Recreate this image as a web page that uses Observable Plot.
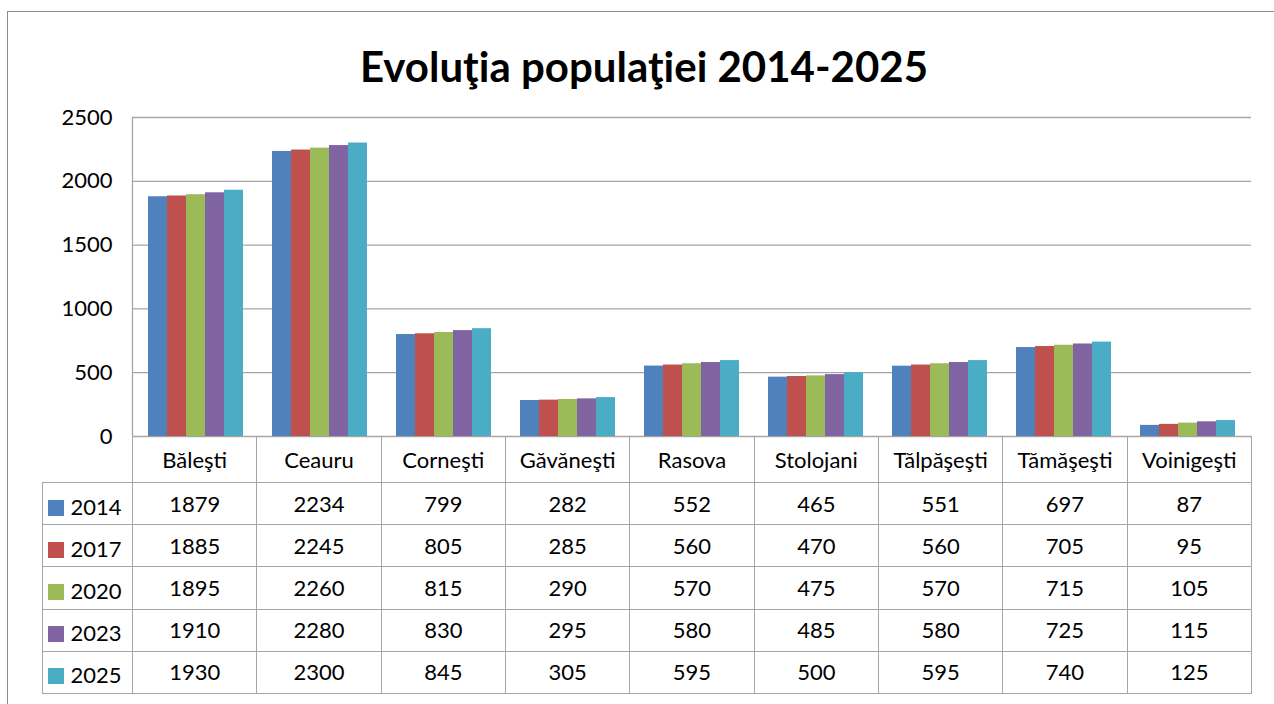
<!DOCTYPE html>
<html>
<head>
<meta charset="utf-8">
<script src="https://cdn.jsdelivr.net/npm/d3@7"></script>
<script src="https://cdn.jsdelivr.net/npm/@observablehq/plot@0.6"></script>
<style>
  html, body { margin: 0; padding: 0; background: #fff; }
  #wrap { position: relative; width: 1274px; height: 704px; overflow: hidden; font-family: Lato, "Open Sans", sans-serif; }
  #frame { position: absolute; left: 7px; top: 11px; width: 1300px; height: 740px; border: 1.5px solid #8c8c8c; box-sizing: border-box; }
  #title { position: absolute; left: 0; width: 1288px; top: 38px; text-align: center; font-weight: 700; font-size: 42px; color: #000; line-height: 56px; }
  .layer { position: absolute; left: 0; top: 0; }
  #tbl { position: absolute; left: 41.5px; top: 436px; border-collapse: collapse; table-layout: fixed; font-size: 22px; color: #000; }
  #tbl td { border: 1px solid #a6a6a6; text-align: center; padding: 0; white-space: nowrap; line-height: 20px; vertical-align: middle; }
  #tbl tr.head td { height: 45px; }
  #tbl tr.row td { height: 41.2px; }
  #tbl td.blank { border: none; }
  #tbl tr.row td.leg { text-align: left; padding-left: 5px; padding-top: 6px; height: 35.2px; }
  .sw { display: inline-block; width: 16px; height: 16px; margin-right: 7px; vertical-align: -1px; }
</style>
</head>
<body>
<div id="wrap">
  <div id="frame"></div>
  <div id="title">Evoluţia populaţiei 2014-2025</div>
  <div id="grid" class="layer"></div>
  <div id="bars" class="layer"></div>
  <table id="tbl"></table>
</div>
<script>
const categories = ["Băleşti", "Ceauru", "Corneşti", "Găvăneşti", "Rasova", "Stolojani", "Tălpăşeşti", "Tămăşeşti", "Voinigeşti"];
const years = [2014, 2017, 2020, 2023, 2025];
const v2014 = [1879, 2234, 799, 282, 552, 465, 551, 697, 87];
const v2017 = [1885, 2245, 805, 285, 560, 470, 560, 705, 95];
const v2020 = [1895, 2260, 815, 290, 570, 475, 570, 715, 105];
const v2023 = [1910, 2280, 830, 295, 580, 485, 580, 725, 115];
const v2025 = [1930, 2300, 845, 305, 595, 500, 595, 740, 125];
const yTicks = [0, 500, 1000, 1500, 2000, 2500];
const colors = ["#4F81BD", "#C0504D", "#9BBB59", "#8064A2", "#4BACC6"];

const series = [v2014, v2017, v2020, v2023, v2025];
const rows = [];
years.forEach((yr, i) => categories.forEach((c, j) => rows.push({category: c, year: yr, value: series[i][j]})));

const W = 1274, H = 704;
const M = {marginLeft: 132, marginRight: 23, marginTop: 117, marginBottom: 268};

const grid = Plot.plot({
  width: W, height: H, ...M,
  style: {background: "transparent", fontFamily: "Lato, 'Open Sans', sans-serif", fontSize: "22px", color: "#000"},
  x: {domain: [0, 1], axis: null},
  y: {domain: [0, 2500], axis: null},
  marks: [
    Plot.ruleY(yTicks, {stroke: "#a6a6a6", strokeWidth: 1.3}),
    Plot.ruleX([0], {stroke: "#a6a6a6", strokeWidth: 1.3}),
    Plot.axisY(yTicks, {tickSize: 0, tickPadding: 20, fontSize: 22, fill: "#000", tickFormat: d => String(d)})
  ]
});
document.getElementById("grid").appendChild(grid);

const bars = Plot.plot({
  width: W, height: H, ...M,
  style: {background: "transparent"},
  fx: {domain: categories, paddingInner: 0.23, paddingOuter: 0.115, axis: null},
  x: {type: "band", domain: years, padding: 0, axis: null},
  y: {domain: [0, 2500], axis: null},
  color: {domain: years, range: colors},
  marks: [
    Plot.barY(rows, {fx: "category", x: "year", y: "value", fill: "year"})
  ]
});
document.getElementById("bars").appendChild(bars);

// data table
const tbl = document.getElementById("tbl");
const colg = document.createElement("colgroup");
const c0 = document.createElement("col"); c0.style.width = "90.5px"; colg.appendChild(c0);
categories.forEach(() => { const c = document.createElement("col"); c.style.width = (1119 / categories.length) + "px"; colg.appendChild(c); });
tbl.appendChild(colg);
tbl.style.width = (90.5 + 1119) + "px";
const hr = document.createElement("tr"); hr.className = "head";
const blank = document.createElement("td"); blank.className = "blank"; hr.appendChild(blank);
categories.forEach(c => { const td = document.createElement("td"); td.textContent = c; hr.appendChild(td); });
tbl.appendChild(hr);
years.forEach((yr, i) => {
  const tr = document.createElement("tr"); tr.className = "row";
  const lg = document.createElement("td"); lg.className = "leg";
  const sw = document.createElement("span"); sw.className = "sw"; sw.style.background = colors[i];
  lg.appendChild(sw); lg.appendChild(document.createTextNode(String(yr)));
  tr.appendChild(lg);
  series[i].forEach(v => { const td = document.createElement("td"); td.textContent = v; tr.appendChild(td); });
  tbl.appendChild(tr);
});
</script>
</body>
</html>
